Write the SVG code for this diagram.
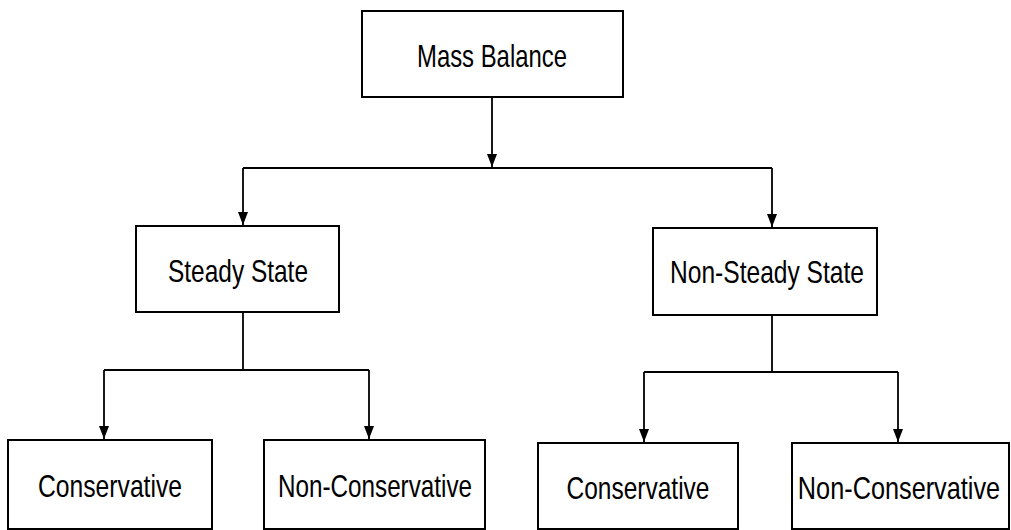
<svg xmlns="http://www.w3.org/2000/svg" width="1011" height="530" viewBox="0 0 1011 530">
<style>
.box{fill:#fff;stroke:#000;stroke-width:2}
.lbl{font-family:"Liberation Sans",Arial,sans-serif;font-size:32px;fill:#000;text-anchor:middle}
.con{fill:none;stroke:#000;stroke-width:1.8}
</style>
<defs>
<marker id="arr" markerUnits="userSpaceOnUse" markerWidth="10" markerHeight="14" viewBox="0 0 10 14" refX="5" refY="13" orient="0">
<path d="M0,0 L10,0 L5,13 Z" fill="#000"/>
</marker>
</defs>
<rect x="0" y="0" width="1011" height="530" fill="#fff"/>
<g id="connectors">
<path class="con" d="M492,97 V167" marker-end="url(#arr)"/>
<path class="con" d="M243,168 H772"/>
<path class="con" d="M243,168 V225" marker-end="url(#arr)"/>
<path class="con" d="M772,168 V227" marker-end="url(#arr)"/>
<path class="con" d="M243,312 V370 M104,370 H369"/>
<path class="con" d="M104,370 V439" marker-end="url(#arr)"/>
<path class="con" d="M369,370 V439" marker-end="url(#arr)"/>
<path class="con" d="M772,315 V372 M644,372 H898"/>
<path class="con" d="M644,372 V442" marker-end="url(#arr)"/>
<path class="con" d="M898,372 V442" marker-end="url(#arr)"/>
</g>
<g id="mass-balance">
<rect class="box" x="362" y="11" width="261" height="86"/>
<text class="lbl" x="492" y="67" textLength="150" lengthAdjust="spacingAndGlyphs">Mass Balance</text>
</g>
<g id="steady-state">
<rect class="box" x="136" y="226" width="203" height="86"/>
<text class="lbl" x="238" y="282" textLength="140" lengthAdjust="spacingAndGlyphs">Steady State</text>
</g>
<g id="non-steady-state">
<rect class="box" x="653" y="228" width="224" height="87"/>
<text class="lbl" x="767" y="283" textLength="194" lengthAdjust="spacingAndGlyphs">Non-Steady State</text>
</g>
<g id="ss-conservative">
<rect class="box" x="8" y="440" width="204" height="89"/>
<text class="lbl" x="110" y="497" textLength="144" lengthAdjust="spacingAndGlyphs">Conservative</text>
</g>
<g id="ss-non-conservative">
<rect class="box" x="264" y="440" width="221" height="89"/>
<text class="lbl" x="375" y="497" textLength="194" lengthAdjust="spacingAndGlyphs">Non-Conservative</text>
</g>
<g id="nss-conservative">
<rect class="box" x="538" y="443" width="200" height="86"/>
<text class="lbl" x="638" y="499" textLength="143" lengthAdjust="spacingAndGlyphs">Conservative</text>
</g>
<g id="nss-non-conservative">
<rect class="box" x="792" y="443" width="217" height="86"/>
<text class="lbl" transform="translate(899,499) scale(0.79,1)" x="0" y="0">Non-Conservative</text>
</g>
</svg>
